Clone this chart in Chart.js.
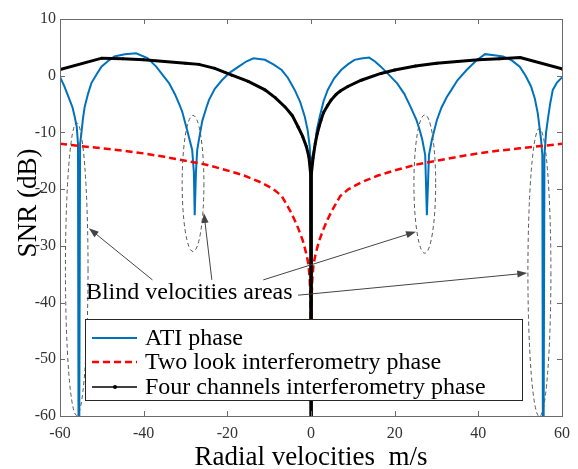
<!DOCTYPE html>
<html>
<head>
<meta charset="utf-8">
<title>SNR vs radial velocity</title>
<script src="https://cdn.jsdelivr.net/npm/chart.js@4.4.1/dist/chart.umd.min.js"></script>
<style>
  html, body { margin: 0; padding: 0; background: #fff; }
  #wrap { width: 578px; height: 469px; }
</style>
</head>
<body>
<div id="wrap"><canvas id="snrChart" width="578" height="469"></canvas></div>
<script>
// Axis ticks
const xTicks = [-60, -40, -20, 0, 20, 40, 60];
const yTicks = [-60, -50, -40, -30, -20, -10, 0, 10];

// ATI phase (velocity m/s, SNR dB)
const atiV = [-60, -59, -58, -57, -56.5, -56, -55.7, -55.5, -55.2, -54.9, -54.5, -54.1, -53.3, -52.5, -51.2, -50.1, -48.5, -47, -44.5, -41.8,
  -39.1, -37, -35.1, -33.9, -32.5, -31.5, -30.8, -29.6, -28.4, -28.0,
  -27.8, -27.5, -27.2, -26.8, -26.0, -25.0, -24.4, -23.0, -21.3, -19.5, -17.3, -15.5, -13.75, -11.0, -9.0, -7.0, -5.5, -3.9, -2.6, -1.5,
  -0.8, -0.3, 0, 0.4, 0.9, 1.4, 2.1, 3.0, 4.0, 5.5, 7.2, 8.8, 10.4, 12.0, 13.9, 15.3, 16.7, 18.6, 20.6, 22.3,
  23.8, 25.2, 26.0, 26.6, 27.3, 27.7,
  28.2, 28.9, 30.1, 31.2, 32.5, 33.3, 35.0, 37.2,
  39.4, 41.6, 43.8, 45.9, 48.0, 49.9, 51.3, 52.6, 53.5, 54.2, 55.0, 55.3, 55.5, 55.8, 56.2, 56.6, 57.2, 57.8, 58.8, 60];
const atiSnr = [-0.2, -1.8, -3.7, -5.6, -7.2, -9.0, -12.0, -90, -12.0, -10.2, -7.5, -5.5, -3.2, -1.3, 0.3, 1.6, 2.6, 3.4, 3.8, 3.95,
  3.1, 1.6, -0.2, -1.35, -3.3, -5.0, -6.3, -9.6, -13.1, -17.0,
  -24.6, -17.0, -13.1, -11.3, -8.0, -5.6, -4.3, -2.3, -0.8, 0.5, 1.6, 2.5, 3.06, 2.8, 2.0, 1.0, -0.4, -2.5, -4.6, -7.2,
  -9.6, -12.5, -17.2, -14.0, -12.5, -9.5, -7.2, -4.5, -2.5, -0.5, 1.0, 2.0, 2.8, 3.05, 3.2, 2.5, 1.6, 0.2, -1.35, -3.2,
  -5.5, -7.8, -9.6, -11.3, -14.0, -24.6,
  -14.0, -11.3, -7.8, -5.6, -3.7, -2.8, -0.8, 1.0,
  2.6, 3.8, 3.6, 3.4, 2.7, 1.6, 0.0, -1.9, -4.0, -6.6, -11.3, -14.0, -90, -14.0, -10.0, -7.8, -4.8, -2.5, -1.2, -0.3];

// Two look interferometry phase
const twoV = [-60, -55, -50, -45, -40, -35, -30, -25, -20, -16, -12, -9, -7, -5, -4, -3, -2, -1.5, -1, -0.6, -0.3, -0.1, -0.03,
  0.03, 0.1, 0.3, 0.6, 1, 1.5, 2, 3, 4, 5, 7, 9, 12, 16, 20, 25, 30, 35, 40, 45, 50, 55, 60];
const twoSnr = [-12.0, -12.4, -12.8, -13.2, -13.7, -14.3, -15.0, -15.7, -16.7, -17.6, -18.8, -20.0, -21.2, -23.8, -25.3, -27.0, -29.0, -30.3, -31.8, -33.3, -36.0, -40.0, -43.0,
  -43.0, -40.0, -36.0, -33.3, -31.8, -30.3, -29.0, -27.0, -25.3, -23.8, -21.2, -20.0, -18.8, -17.6, -16.7, -15.7, -15.0, -14.3, -13.7, -13.2, -12.8, -12.4, -12.0];

// Four channels interferometry phase
const fourV = [-60, -50, -45, -40, -35, -30, -26.8, -23, -18.9, -15, -11, -8.5, -6.2, -4.5, -3.1, -2, -1.1, -0.5, -0.1, 0,
  0.1, 0.5, 1, 1.5, 2, 2.4, 3, 4, 4.8, 6, 7, 8.8, 12, 16.7, 20, 25, 30, 35, 40, 45, 50, 60];
const fourSnr = [1.1, 3.1, 3.0, 2.8, 2.5, 2.2, 2.0, 1.3, 0.1, -1.0, -2.5, -3.9, -5.5, -7.0, -9.0, -10.7, -12.5, -14.3, -17.2, -90,
  -17.2, -14.5, -12.0, -10.2, -8.8, -7.8, -6.5, -5.2, -4.3, -3.3, -2.7, -1.9, -0.8, 0.4, 1.0, 1.7, 2.2, 2.5, 2.8, 3.0, 3.2, 1.2];

const seriesNames = ['ATI phase', 'Two look interferometry phase', 'Four channels interferometry phase'];

// Blind velocity areas: ellipse centre (v, snr) and half-axes in data units
const blindAreas = [
  { v: -56.0, snr: -34.1, rv: 2.7, rs: 25.8 },
  { v: -28.2, snr: -19.0, rv: 2.6, rs: 12.0 },
  { v: 27.2, snr: -19.1, rv: 2.6, rs: 12.2 },
  { v: 54.6, snr: -34.7, rv: 2.75, rs: 25.4 }
];
// arrows from the label to each area [tailV, tailSnr, headV, headSnr]
const blindArrows = [
  [-37.9, -36.0, -53.1, -26.9],
  [-23.7, -36.0, -25.6, -24.2],
  [-11.4, -36.0, 25.1, -27.5],
  [-3.1, -38.7, 51.7, -34.8]
];
const blindLabel = { text: 'Blind velocities areas', v: -53.8, snr: -38.3 };

const COLORS = { ati: '#0072bd', two: '#ff0000', four: '#000000' };
const SERIF = '"Liberation Serif", "Times New Roman", serif';

function toPoints(xs, ys) {
  return xs.map((x, i) => ({ x: x, y: ys[i] }));
}

function arrow(ctx, x1, y1, x2, y2) {
  const ang = Math.atan2(y2 - y1, x2 - x1);
  const len = 10, half = 3.5;
  ctx.beginPath();
  ctx.moveTo(x1, y1);
  ctx.lineTo(x2 - Math.cos(ang) * len * 0.8, y2 - Math.sin(ang) * len * 0.8);
  ctx.stroke();
  ctx.beginPath();
  ctx.moveTo(x2, y2);
  ctx.lineTo(x2 - Math.cos(ang) * len - Math.sin(ang) * half, y2 - Math.sin(ang) * len + Math.cos(ang) * half);
  ctx.lineTo(x2 - Math.cos(ang) * len + Math.sin(ang) * half, y2 - Math.sin(ang) * len - Math.cos(ang) * half);
  ctx.closePath();
  ctx.fill();
}

// ellipses, arrows and the blind velocity label
const annotations = {
  id: 'annotations',
  afterDatasetsDraw(chart) {
    const { ctx, scales: { x, y } } = chart;
    ctx.save();
    ctx.strokeStyle = '#555';
    ctx.lineWidth = 1;
    ctx.setLineDash([4, 3]);
    blindAreas.forEach(a => {
      const cx = x.getPixelForValue(a.v), cy = y.getPixelForValue(a.snr);
      const rx = Math.abs(x.getPixelForValue(a.v + a.rv) - cx);
      const ry = Math.abs(y.getPixelForValue(a.snr + a.rs) - cy);
      ctx.beginPath();
      ctx.ellipse(cx, cy, rx, ry, 0, 0, Math.PI * 2);
      ctx.stroke();
    });
    ctx.setLineDash([]);
    ctx.strokeStyle = '#444';
    ctx.fillStyle = '#444';
    blindArrows.forEach(a => {
      arrow(ctx, x.getPixelForValue(a[0]), y.getPixelForValue(a[1]), x.getPixelForValue(a[2]), y.getPixelForValue(a[3]));
    });
    ctx.fillStyle = '#000';
    ctx.font = '24px ' + SERIF;
    ctx.textAlign = 'left';
    ctx.textBaseline = 'middle';
    ctx.fillText(blindLabel.text, x.getPixelForValue(blindLabel.v), y.getPixelForValue(blindLabel.snr));
    ctx.restore();
  }
};

// axis box with inward ticks, axis titles and the legend
const frame = {
  id: 'frame',
  afterDraw(chart) {
    const { ctx, chartArea: a, scales: { x, y } } = chart;
    ctx.save();
    ctx.strokeStyle = '#6b6b6b';
    ctx.lineWidth = 1;
    ctx.strokeRect(a.left + 0.5, a.top + 0.5, a.right - a.left, a.bottom - a.top);
    ctx.beginPath();
    xTicks.forEach(t => {
      const px = Math.round(x.getPixelForValue(t)) + 0.5;
      ctx.moveTo(px, a.bottom); ctx.lineTo(px, a.bottom - 5);
      ctx.moveTo(px, a.top); ctx.lineTo(px, a.top + 5);
    });
    yTicks.forEach(t => {
      const py = Math.round(y.getPixelForValue(t)) + 0.5;
      ctx.moveTo(a.left, py); ctx.lineTo(a.left + 5, py);
      ctx.moveTo(a.right, py); ctx.lineTo(a.right - 5, py);
    });
    ctx.stroke();

    // axis titles
    ctx.fillStyle = '#000';
    ctx.font = '27px ' + SERIF;
    ctx.textAlign = 'center';
    ctx.textBaseline = 'alphabetic';
    ctx.fillText('Radial velocities  m/s', 311, 465);
    ctx.save();
    ctx.translate(36, 203);
    ctx.rotate(-Math.PI / 2);
    ctx.fillText('SNR (dB)', 0, 0);
    ctx.restore();

    // legend
    const L = { left: 85, top: 319, right: 522, bottom: 400 };
    ctx.fillStyle = '#fff';
    ctx.fillRect(L.left, L.top, L.right - L.left, L.bottom - L.top);
    ctx.strokeStyle = '#262626';
    ctx.strokeRect(L.left + 0.5, L.top + 0.5, L.right - L.left, L.bottom - L.top);
    const rows = [338, 362, 387];
    const styles = [
      { color: COLORS.ati, width: 2, dash: [] },
      { color: COLORS.two, width: 2.5, dash: [7, 4] },
      { color: COLORS.four, width: 1.5, dash: [] }
    ];
    rows.forEach((ry, i) => {
      ctx.strokeStyle = styles[i].color;
      ctx.lineWidth = styles[i].width;
      ctx.setLineDash(styles[i].dash);
      ctx.beginPath();
      ctx.moveTo(92, ry); ctx.lineTo(137, ry);
      ctx.stroke();
      ctx.setLineDash([]);
      if (i === 2) {
        ctx.fillStyle = '#000';
        ctx.beginPath();
        ctx.arc(115, ry, 2, 0, Math.PI * 2);
        ctx.fill();
      }
      ctx.fillStyle = '#000';
      ctx.font = '24px ' + SERIF;
      ctx.textAlign = 'left';
      ctx.textBaseline = 'middle';
      ctx.fillText(seriesNames[i], 145, ry + 1);
    });
    ctx.restore();
  }
};

const tickFont = { family: SERIF, size: 16 };

new Chart(document.getElementById('snrChart').getContext('2d'), {
  type: 'line',
  data: {
    datasets: [
      {
        label: seriesNames[0],
        data: toPoints(atiV, atiSnr),
        borderColor: COLORS.ati,
        borderWidth: 2,
        pointRadius: 0,
        tension: 0,
        order: 3
      },
      {
        label: seriesNames[1],
        data: toPoints(twoV, twoSnr),
        borderColor: COLORS.two,
        borderWidth: 2.5,
        borderDash: [7, 4],
        pointRadius: 0,
        tension: 0,
        order: 2
      },
      {
        label: seriesNames[2],
        data: toPoints(fourV, fourSnr),
        borderColor: COLORS.four,
        backgroundColor: COLORS.four,
        borderWidth: 3,
        pointRadius: 1.5,
        pointBorderWidth: 0,
        tension: 0,
        order: 1
      }
    ]
  },
  options: {
    responsive: false,
    animation: false,
    layout: { padding: { left: 0, top: 19, right: 12, bottom: 0 } },
    plugins: {
      legend: { display: false },
      tooltip: { enabled: false }
    },
    scales: {
      x: {
        type: 'linear',
        min: -60,
        max: 60,
        afterFit: s => { s.height = 53; },
        afterBuildTicks: s => { s.ticks = xTicks.map(v => ({ value: v })); },
        grid: { display: false, drawTicks: false },
        border: { display: false },
        ticks: {
          font: tickFont,
          color: '#333',
          padding: 8,
          maxRotation: 0,
          callback: v => String(v)
        }
      },
      y: {
        type: 'linear',
        min: -60,
        max: 10,
        afterFit: s => { s.width = 60; },
        afterBuildTicks: s => { s.ticks = yTicks.map(v => ({ value: v })); },
        grid: { display: false, drawTicks: false },
        border: { display: false },
        ticks: {
          font: tickFont,
          color: '#333',
          padding: 4,
          callback: v => String(v)
        }
      }
    }
  },
  plugins: [annotations, frame]
});
</script>
</body>
</html>
